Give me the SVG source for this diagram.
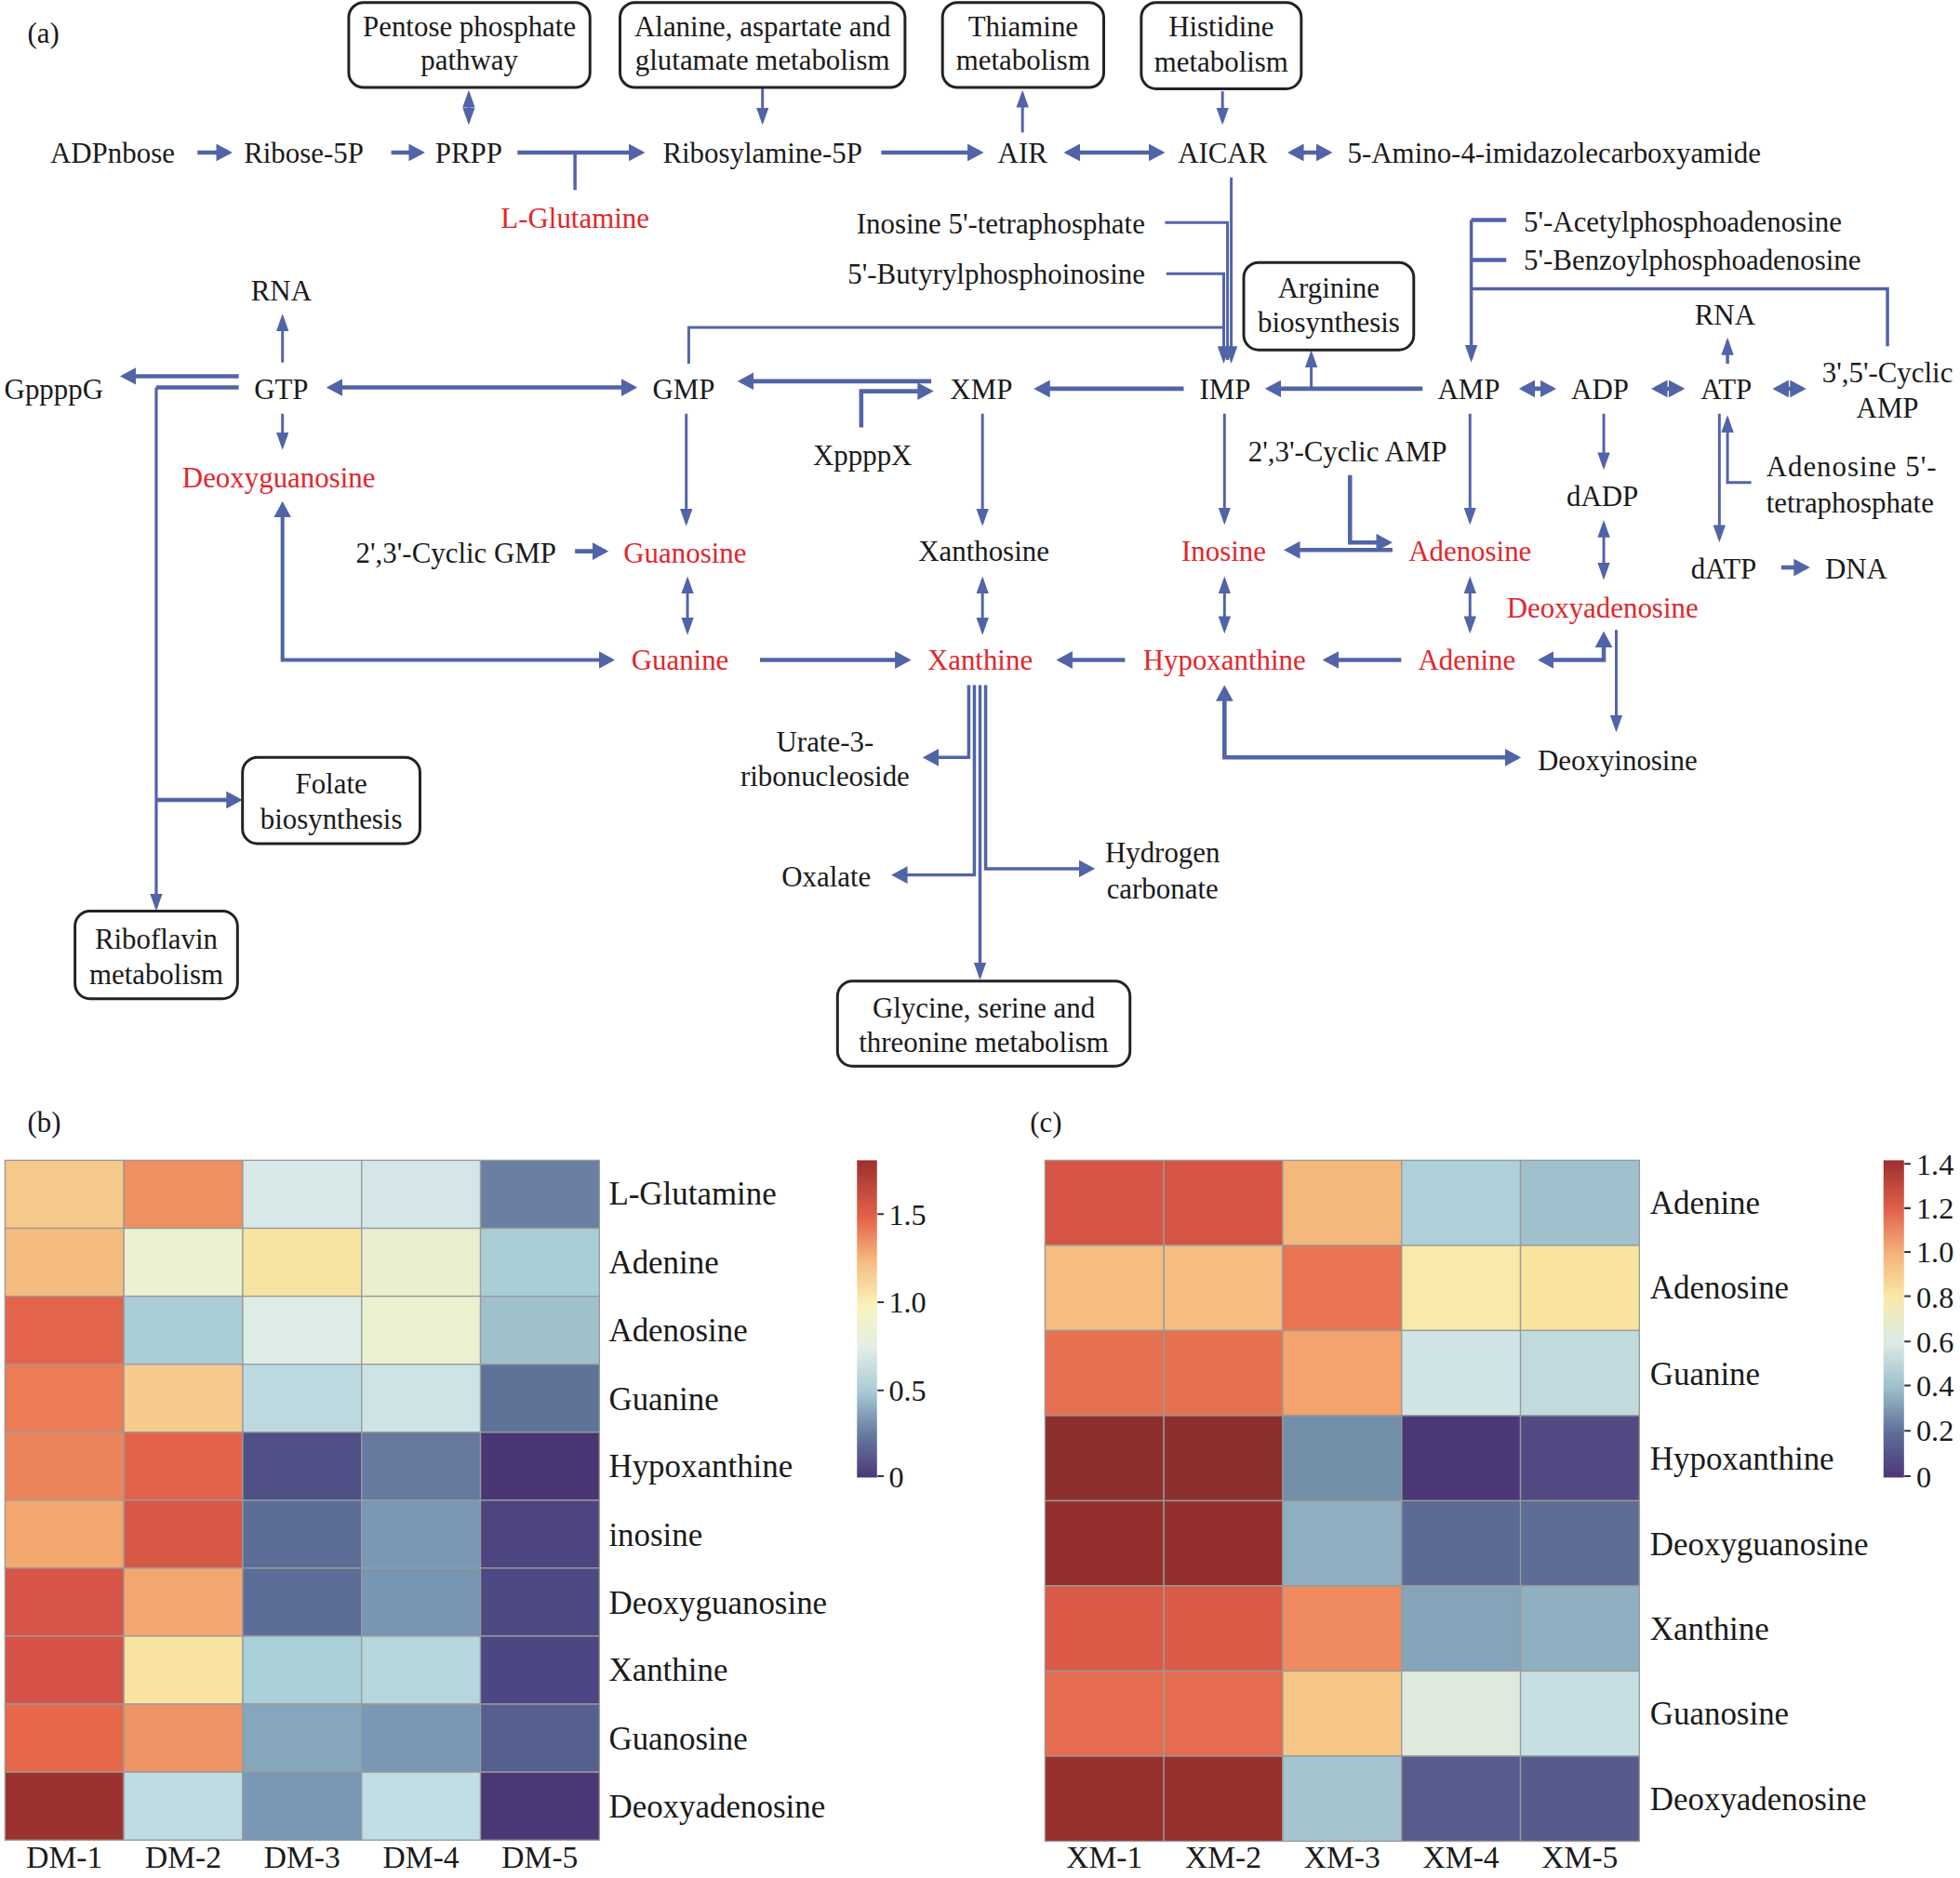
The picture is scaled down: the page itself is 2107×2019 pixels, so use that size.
<svg xmlns="http://www.w3.org/2000/svg" width="2107" height="2019" viewBox="0 0 2107 2019">
<style>
.t{font-family:"Liberation Serif","Times New Roman",serif;font-size:23px;fill:#1a1a1a;text-anchor:middle}
.r{fill:#e3262b}
.s{text-anchor:start}
.e{text-anchor:end}
.box{fill:#fff;stroke:#222;stroke-width:2.2}
.c{fill:none;stroke:#5264a8;stroke-width:2.2}
.k{stroke-width:3.4}
.hl{font-size:26px;text-anchor:start}
.hc{font-size:25px}
.tk{font-size:24px;text-anchor:start}
.cell{stroke:#9a9a9a;stroke-width:1}
.tick{stroke:#333;stroke-width:1.5}
</style>
<defs>
<marker id="a" markerUnits="userSpaceOnUse" viewBox="0 0 14 10" refX="11" refY="5" markerWidth="14" markerHeight="10" orient="auto-start-reverse"><path d="M0,0L14,5L0,10z" fill="#5264a8"/></marker>
<marker id="A" markerUnits="userSpaceOnUse" viewBox="0 0 13 14" refX="10" refY="7" markerWidth="13" markerHeight="14" orient="auto-start-reverse"><path d="M0,0L13,7L0,14z" fill="#5264a8"/></marker>
<linearGradient id="gb" x1="0" y1="1" x2="0" y2="0">
<stop offset="0" stop-color="#4b3877"/>
<stop offset="0.136" stop-color="#667aa0"/>
<stop offset="0.27" stop-color="#a8cad5"/>
<stop offset="0.41" stop-color="#e3eee6"/>
<stop offset="0.54" stop-color="#f9f3bd"/>
<stop offset="0.68" stop-color="#f5bc7f"/>
<stop offset="0.815" stop-color="#e5644a"/>
<stop offset="1" stop-color="#9c2f2f"/>
</linearGradient>
<linearGradient id="gc" x1="0" y1="1" x2="0" y2="0">
<stop offset="0" stop-color="#4b3877"/>
<stop offset="0.141" stop-color="#5f6d98"/>
<stop offset="0.283" stop-color="#9cbfcc"/>
<stop offset="0.424" stop-color="#dbeae6"/>
<stop offset="0.565" stop-color="#f8eaa8"/>
<stop offset="0.707" stop-color="#f5b27a"/>
<stop offset="0.848" stop-color="#e0604a"/>
<stop offset="1" stop-color="#9c2f2f"/>
</linearGradient>
</defs>
<rect width="2107" height="2019" fill="#fff"/>
<g transform="scale(1.34375)">
<text class="t s" x="22" y="34">(a)</text>

<g id="connectors">
<path class="c k" d="M158,122H183" marker-end="url(#A)"/>
<path class="c k" d="M313,122H337" marker-end="url(#A)"/>
<path class="c k" d="M414,122H513" marker-end="url(#A)"/>
<path class="c" d="M460,122V152" style="stroke-width:2.6"/>
<path class="c k" d="M705,122H784" marker-end="url(#A)"/>
<path class="c k" d="M854,122H929" marker-start="url(#A)" marker-end="url(#A)"/>
<path class="c k" d="M1033,122H1063" marker-start="url(#A)" marker-end="url(#A)"/>
<path class="c" d="M375,75V97" marker-start="url(#a)" marker-end="url(#a)"/>
<path class="c" d="M610,70V97" marker-end="url(#a)"/>
<path class="c" d="M818,106V75" marker-end="url(#a)"/>
<path class="c" d="M978,73V97" marker-end="url(#a)"/>
<path class="c" d="M985,142V288" marker-end="url(#a)"/>
<path class="c" d="M932,178H982V288"/>
<path class="c" d="M933,219H979V288" marker-end="url(#a)"/>
<path class="c" d="M551,291V262H979"/>
<path class="c k" d="M1138,311H1015" marker-end="url(#A)"/>
<path class="c" d="M1049,311V283" marker-end="url(#a)"/>
<path class="c k" d="M947,311H830" marker-end="url(#A)"/>
<path class="c k" d="M745,305H593" marker-end="url(#A)"/>
<path class="c k" d="M689,342V313H744" marker-end="url(#A)"/>
<path class="c k" d="M264,310H507" marker-start="url(#A)" marker-end="url(#A)"/>
<path class="c k" d="M191,301H99" marker-end="url(#A)"/>
<path class="c k" d="M191,310H125"/>
<path class="c" d="M125,310V726" style="stroke-width:2.4" marker-end="url(#a)"/>
<path class="c k" d="M125,640H191" marker-end="url(#A)"/>
<path class="c" d="M226,290V254" marker-end="url(#a)"/>
<path class="c" d="M226,331V357" marker-end="url(#a)"/>
<path class="c" d="M226,404V528H489" style="stroke-width:3" marker-start="url(#A)" marker-end="url(#A)"/>
<path class="c" d="M549,331V418" marker-end="url(#a)"/>
<path class="c k" d="M460,441H484" marker-end="url(#A)"/>
<path class="c" d="M550,464V505" marker-start="url(#a)" marker-end="url(#a)"/>
<path class="c k" d="M608,528H726" marker-end="url(#A)"/>
<path class="c" d="M786,331V418" marker-end="url(#a)"/>
<path class="c" d="M786,464V505" marker-start="url(#a)" marker-end="url(#a)"/>
<path class="c k" d="M900,528H848" marker-end="url(#A)"/>
<path class="c k" d="M1121,528H1061" marker-end="url(#A)"/>
<path class="c k" d="M1233,528H1283V508" marker-start="url(#A)" marker-end="url(#A)"/>
<path class="c" d="M1293,504V583" marker-end="url(#a)"/>
<path class="c k" d="M979.6,551V606H1214" marker-start="url(#A)" marker-end="url(#A)"/>
<path class="c" d="M979.6,331V417" marker-end="url(#a)"/>
<path class="c" d="M1176,331V417" marker-end="url(#a)"/>
<path class="c k" d="M1080,380V434H1111" marker-end="url(#A)"/>
<path class="c k" d="M1114,440H1030" marker-end="url(#A)"/>
<path class="c" d="M979.6,464V504" marker-start="url(#a)" marker-end="url(#a)"/>
<path class="c" d="M1176,464V504" marker-start="url(#a)" marker-end="url(#a)"/>
<path class="c k" d="M1218,311H1242" marker-start="url(#A)" marker-end="url(#A)"/>
<path class="c k" d="M1324,311H1345" marker-start="url(#A)" marker-end="url(#A)"/>
<path class="c k" d="M1421,311H1442" marker-start="url(#A)" marker-end="url(#A)"/>
<path class="c" d="M1382,291V273" style="stroke-width:2.6" marker-end="url(#a)"/>
<path class="c" d="M1283,331V373" marker-end="url(#a)"/>
<path class="c" d="M1283,419V461" marker-start="url(#a)" marker-end="url(#a)"/>
<path class="c" d="M1375.5,331V431" marker-end="url(#a)"/>
<path class="c" d="M1401,386H1382V335" marker-end="url(#a)"/>
<path class="c k" d="M1425,454H1445" marker-end="url(#A)"/>
<path class="c k" d="M1205,176H1177"/>
<path class="c k" d="M1205,208H1177"/>
<path class="c" d="M1177,176V287" style="stroke-width:2.6" marker-end="url(#a)"/>
<path class="c" d="M1510,277V231H1177" style="stroke-width:2.6"/>
<path class="c" d="M775,548V606H741" style="stroke-width:2.6" marker-end="url(#A)"/>
<path class="c" d="M779.5,548V700H716" style="stroke-width:2.6" marker-end="url(#A)"/>
<path class="c" d="M784,548V781" style="stroke-width:2.6" marker-end="url(#a)"/>
<path class="c" d="M788.5,548V695H873" style="stroke-width:2.6" marker-end="url(#A)"/>
</g>

<g id="n-pentose"><rect class="box" x="279" y="2" width="193" height="68" rx="12"/><text class="t" x="375.5" y="29">Pentose phosphate</text><text class="t" x="375.5" y="56">pathway</text></g>
<g id="n-alanine"><rect class="box" x="496" y="2" width="228" height="68" rx="12"/><text class="t" x="610" y="29">Alanine, aspartate and</text><text class="t" x="610" y="56">glutamate metabolism</text></g>
<g id="n-thiamine"><rect class="box" x="754" y="2" width="129" height="68" rx="12"/><text class="t" x="818.5" y="29">Thiamine</text><text class="t" x="818.5" y="56">metabolism</text></g>
<g id="n-histidine"><rect class="box" x="913" y="2" width="128" height="69" rx="12"/><text class="t" x="977" y="29">Histidine</text><text class="t" x="977" y="57">metabolism</text></g>
<g id="n-arginine"><rect class="box" x="995" y="210" width="136" height="70" rx="12"/><text class="t" x="1063" y="238">Arginine</text><text class="t" x="1063" y="266">biosynthesis</text></g>
<g id="n-folate"><rect class="box" x="194" y="606" width="142" height="69" rx="12"/><text class="t" x="265" y="635">Folate</text><text class="t" x="265" y="663">biosynthesis</text></g>
<g id="n-riboflavin"><rect class="box" x="60" y="729" width="130" height="70" rx="12"/><text class="t" x="125" y="759">Riboflavin</text><text class="t" x="125" y="787">metabolism</text></g>
<g id="n-glycine"><rect class="box" x="670" y="785" width="234" height="68" rx="12"/><text class="t" x="787" y="814">Glycine, serine and</text><text class="t" x="787" y="842">threonine metabolism</text></g>

<g id="n-adpribose"><text class="t" x="90" y="130">ADPnbose</text></g>
<g id="n-ribose5p"><text class="t" x="243" y="130">Ribose-5P</text></g>
<g id="n-prpp"><text class="t" x="375" y="130">PRPP</text></g>
<g id="n-ribosylamine"><text class="t" x="610" y="130">Ribosylamine-5P</text></g>
<g id="n-air"><text class="t" x="818" y="130">AIR</text></g>
<g id="n-aicar"><text class="t" x="978" y="130">AICAR</text></g>
<g id="n-amino"><text class="t s" x="1078" y="130">5-Amino-4-imidazolecarboxyamide</text></g>
<g id="n-lglutamine"><text class="t r" x="460" y="182">L-Glutamine</text></g>
<g id="n-itp"><text class="t e" x="916" y="187">Inosine 5'-tetraphosphate</text></g>
<g id="n-butyryl"><text class="t e" x="916" y="227">5'-Butyrylphosphoinosine</text></g>
<g id="n-acetyl"><text class="t s" x="1219" y="185">5'-Acetylphosphoadenosine</text></g>
<g id="n-benzoyl"><text class="t s" x="1219" y="216">5'-Benzoylphosphoadenosine</text></g>
<g id="n-rna1"><text class="t" x="225" y="240">RNA</text></g>
<g id="n-rna2"><text class="t" x="1380" y="260">RNA</text></g>
<g id="n-gppppg"><text class="t" x="43" y="319">GppppG</text></g>
<g id="n-gtp"><text class="t" x="225" y="319">GTP</text></g>
<g id="n-gmp"><text class="t" x="547" y="319">GMP</text></g>
<g id="n-xmp"><text class="t" x="785" y="319">XMP</text></g>
<g id="n-imp"><text class="t" x="980" y="319">IMP</text></g>
<g id="n-amp"><text class="t" x="1175" y="319">AMP</text></g>
<g id="n-adp"><text class="t" x="1280" y="319">ADP</text></g>
<g id="n-atp"><text class="t" x="1381" y="319">ATP</text></g>
<g id="n-camp"><text class="t" x="1510" y="306">3',5'-Cyclic</text><text class="t" x="1510" y="334">AMP</text></g>
<g id="n-xppppx"><text class="t" x="690" y="372">XppppX</text></g>
<g id="n-deoxyguanosine"><text class="t r" x="223" y="390">Deoxyguanosine</text></g>
<g id="n-cyclicamp23"><text class="t" x="1078" y="369">2',3'-Cyclic AMP</text></g>
<g id="n-dadp"><text class="t" x="1282" y="405">dADP</text></g>
<g id="n-adotp"><text class="t s" x="1413" y="381" textLength="136" lengthAdjust="spacing">Adenosine 5'-</text><text class="t s" x="1413" y="410">tetraphosphate</text></g>
<g id="n-cyclicgmp"><text class="t e" x="445" y="450">2',3'-Cyclic GMP</text></g>
<g id="n-guanosine"><text class="t r" x="548" y="450">Guanosine</text></g>
<g id="n-xanthosine"><text class="t" x="787" y="449">Xanthosine</text></g>
<g id="n-inosine"><text class="t r" x="979" y="449">Inosine</text></g>
<g id="n-adenosine"><text class="t r" x="1176" y="449">Adenosine</text></g>
<g id="n-datp"><text class="t" x="1379" y="463">dATP</text></g>
<g id="n-dna"><text class="t" x="1485" y="463">DNA</text></g>
<g id="n-deoxyadenosine"><text class="t r" x="1282" y="494">Deoxyadenosine</text></g>
<g id="n-guanine"><text class="t r" x="544" y="536">Guanine</text></g>
<g id="n-xanthine"><text class="t r" x="784" y="536">Xanthine</text></g>
<g id="n-hypoxanthine"><text class="t r" x="979.5" y="536">Hypoxanthine</text></g>
<g id="n-adenine"><text class="t r" x="1173.5" y="536">Adenine</text></g>
<g id="n-urate"><text class="t" x="660" y="601">Urate-3-</text><text class="t" x="660" y="629">ribonucleoside</text></g>
<g id="n-deoxyinosine"><text class="t" x="1294" y="616">Deoxyinosine</text></g>
<g id="n-oxalate"><text class="t" x="661" y="709">Oxalate</text></g>
<g id="n-hco3"><text class="t" x="930" y="690">Hydrogen</text><text class="t" x="930" y="719">carbonate</text></g>

<g id="heatmap-b">
<text class="t s" x="22" y="906">(b)</text>
<g class="cell">
<rect x="4" y="928.3" width="95.1" height="54.39" fill="#f5c98a"/><rect x="99.1" y="928.3" width="95.1" height="54.39" fill="#ef9060"/><rect x="194.2" y="928.3" width="95.1" height="54.39" fill="#d9e9e9"/><rect x="289.3" y="928.3" width="95.1" height="54.39" fill="#d4e6e8"/><rect x="384.4" y="928.3" width="95.1" height="54.39" fill="#6a7fa2"/>
<rect x="4" y="982.7" width="95.1" height="54.39" fill="#f4bd7f"/><rect x="99.1" y="982.7" width="95.1" height="54.39" fill="#eaf0d0"/><rect x="194.2" y="982.7" width="95.1" height="54.39" fill="#f7e4a0"/><rect x="289.3" y="982.7" width="95.1" height="54.39" fill="#e8efcf"/><rect x="384.4" y="982.7" width="95.1" height="54.39" fill="#a9cdd4"/>
<rect x="4" y="1037.1" width="95.1" height="54.39" fill="#e2644a"/><rect x="99.1" y="1037.1" width="95.1" height="54.39" fill="#a9cdd6"/><rect x="194.2" y="1037.1" width="95.1" height="54.39" fill="#deece6"/><rect x="289.3" y="1037.1" width="95.1" height="54.39" fill="#ebf1d0"/><rect x="384.4" y="1037.1" width="95.1" height="54.39" fill="#9fc1cc"/>
<rect x="4" y="1091.5" width="95.1" height="54.39" fill="#ec7c55"/><rect x="99.1" y="1091.5" width="95.1" height="54.39" fill="#f6ca8c"/><rect x="194.2" y="1091.5" width="95.1" height="54.39" fill="#bcd9e0"/><rect x="289.3" y="1091.5" width="95.1" height="54.39" fill="#cde3e6"/><rect x="384.4" y="1091.5" width="95.1" height="54.39" fill="#5f7399"/>
<rect x="4" y="1145.9" width="95.1" height="54.39" fill="#ec845b"/><rect x="99.1" y="1145.9" width="95.1" height="54.39" fill="#e2634a"/><rect x="194.2" y="1145.9" width="95.1" height="54.39" fill="#4e5086"/><rect x="289.3" y="1145.9" width="95.1" height="54.39" fill="#667a9f"/><rect x="384.4" y="1145.9" width="95.1" height="54.39" fill="#4a3675"/>
<rect x="4" y="1200.3" width="95.1" height="54.39" fill="#f3a86f"/><rect x="99.1" y="1200.3" width="95.1" height="54.39" fill="#d85848"/><rect x="194.2" y="1200.3" width="95.1" height="54.39" fill="#5c6d97"/><rect x="289.3" y="1200.3" width="95.1" height="54.39" fill="#7a98b4"/><rect x="384.4" y="1200.3" width="95.1" height="54.39" fill="#4c4580"/>
<rect x="4" y="1254.6" width="95.1" height="54.39" fill="#d8554a"/><rect x="99.1" y="1254.6" width="95.1" height="54.39" fill="#f3a76e"/><rect x="194.2" y="1254.6" width="95.1" height="54.39" fill="#5c6d97"/><rect x="289.3" y="1254.6" width="95.1" height="54.39" fill="#7895b2"/><rect x="384.4" y="1254.6" width="95.1" height="54.39" fill="#4d4982"/>
<rect x="4" y="1309" width="95.1" height="54.39" fill="#d75249"/><rect x="99.1" y="1309" width="95.1" height="54.39" fill="#f8e3a0"/><rect x="194.2" y="1309" width="95.1" height="54.39" fill="#a9cfd8"/><rect x="289.3" y="1309" width="95.1" height="54.39" fill="#b6d6de"/><rect x="384.4" y="1309" width="95.1" height="54.39" fill="#4c4782"/>
<rect x="4" y="1363.4" width="95.1" height="54.39" fill="#e5684b"/><rect x="99.1" y="1363.4" width="95.1" height="54.39" fill="#ef9464"/><rect x="194.2" y="1363.4" width="95.1" height="54.39" fill="#86a6bc"/><rect x="289.3" y="1363.4" width="95.1" height="54.39" fill="#7898b5"/><rect x="384.4" y="1363.4" width="95.1" height="54.39" fill="#56608f"/>
<rect x="4" y="1417.8" width="95.1" height="54.39" fill="#9c322f"/><rect x="99.1" y="1417.8" width="95.1" height="54.39" fill="#bedce2"/><rect x="194.2" y="1417.8" width="95.1" height="54.39" fill="#7898b5"/><rect x="289.3" y="1417.8" width="95.1" height="54.39" fill="#bfdde3"/><rect x="384.4" y="1417.8" width="95.1" height="54.39" fill="#4a3776"/>
</g>
<text class="t hl" x="487" y="964">L-Glutamine</text>
<text class="t hl" x="487" y="1019">Adenine</text>
<text class="t hl" x="487" y="1073">Adenosine</text>
<text class="t hl" x="487" y="1128">Guanine</text>
<text class="t hl" x="487" y="1182">Hypoxanthine</text>
<text class="t hl" x="487" y="1237">inosine</text>
<text class="t hl" x="487" y="1291">Deoxyguanosine</text>
<text class="t hl" x="487" y="1345">Xanthine</text>
<text class="t hl" x="487" y="1400">Guanosine</text>
<text class="t hl" x="487" y="1454">Deoxyadenosine</text>
<text class="t hc" x="51.5" y="1494">DM-1</text>
<text class="t hc" x="146.6" y="1494">DM-2</text>
<text class="t hc" x="241.7" y="1494">DM-3</text>
<text class="t hc" x="336.8" y="1494">DM-4</text>
<text class="t hc" x="431.9" y="1494">DM-5</text>
<rect x="685.6" y="928.3" width="16" height="253.8" fill="url(#gb)"/>
<path class="tick" d="M702,971.4h5M702,1041.9h5M702,1112.4h5M702,1181h5"/>
<text class="t tk" x="711" y="980">1.5</text>
<text class="t tk" x="711" y="1050">1.0</text>
<text class="t tk" x="711" y="1121">0.5</text>
<text class="t tk" x="711" y="1190">0</text>
</g>

<g id="heatmap-c">
<text class="t s" x="824" y="906">(c)</text>
<g class="cell">
<rect x="836" y="928.3" width="95.1" height="68.1" fill="#d75546"/><rect x="931.1" y="928.3" width="95.1" height="68.1" fill="#d75546"/><rect x="1026.2" y="928.3" width="95.1" height="68.1" fill="#f5b87b"/><rect x="1121.3" y="928.3" width="95.1" height="68.1" fill="#aed0d8"/><rect x="1216.4" y="928.3" width="95.1" height="68.1" fill="#9fc1cd"/>
<rect x="836" y="996.4" width="95.1" height="68.1" fill="#f5bd80"/><rect x="931.1" y="996.4" width="95.1" height="68.1" fill="#f5bd80"/><rect x="1026.2" y="996.4" width="95.1" height="68.1" fill="#e97452"/><rect x="1121.3" y="996.4" width="95.1" height="68.1" fill="#f8eaa8"/><rect x="1216.4" y="996.4" width="95.1" height="68.1" fill="#f9e49f"/>
<rect x="836" y="1064.5" width="95.1" height="68.1" fill="#e67151"/><rect x="931.1" y="1064.5" width="95.1" height="68.1" fill="#e67151"/><rect x="1026.2" y="1064.5" width="95.1" height="68.1" fill="#f3a36b"/><rect x="1121.3" y="1064.5" width="95.1" height="68.1" fill="#d0e4e8"/><rect x="1216.4" y="1064.5" width="95.1" height="68.1" fill="#c0dade"/>
<rect x="836" y="1132.6" width="95.1" height="68.1" fill="#8c2f2e"/><rect x="931.1" y="1132.6" width="95.1" height="68.1" fill="#8c2f2e"/><rect x="1026.2" y="1132.6" width="95.1" height="68.1" fill="#728ea9"/><rect x="1121.3" y="1132.6" width="95.1" height="68.1" fill="#4b3877"/><rect x="1216.4" y="1132.6" width="95.1" height="68.1" fill="#524a83"/>
<rect x="836" y="1200.7" width="95.1" height="68.1" fill="#93302d"/><rect x="931.1" y="1200.7" width="95.1" height="68.1" fill="#93302d"/><rect x="1026.2" y="1200.7" width="95.1" height="68.1" fill="#8faebf"/><rect x="1121.3" y="1200.7" width="95.1" height="68.1" fill="#5c6a95"/><rect x="1216.4" y="1200.7" width="95.1" height="68.1" fill="#5e6d96"/>
<rect x="836" y="1268.8" width="95.1" height="68.1" fill="#da5b48"/><rect x="931.1" y="1268.8" width="95.1" height="68.1" fill="#da5b48"/><rect x="1026.2" y="1268.8" width="95.1" height="68.1" fill="#ef8b5e"/><rect x="1121.3" y="1268.8" width="95.1" height="68.1" fill="#84a4ba"/><rect x="1216.4" y="1268.8" width="95.1" height="68.1" fill="#8fb0c0"/>
<rect x="836" y="1336.9" width="95.1" height="68.1" fill="#e56c4f"/><rect x="931.1" y="1336.9" width="95.1" height="68.1" fill="#e56c4f"/><rect x="1026.2" y="1336.9" width="95.1" height="68.1" fill="#f6c687"/><rect x="1121.3" y="1336.9" width="95.1" height="68.1" fill="#dfeadf"/><rect x="1216.4" y="1336.9" width="95.1" height="68.1" fill="#c6dfe5"/>
<rect x="836" y="1405" width="95.1" height="68.1" fill="#98302d"/><rect x="931.1" y="1405" width="95.1" height="68.1" fill="#98302d"/><rect x="1026.2" y="1405" width="95.1" height="68.1" fill="#a4c5cf"/><rect x="1121.3" y="1405" width="95.1" height="68.1" fill="#585d8e"/><rect x="1216.4" y="1405" width="95.1" height="68.1" fill="#575a8c"/>
</g>
<text class="t hl" x="1320" y="971">Adenine</text>
<text class="t hl" x="1320" y="1039">Adenosine</text>
<text class="t hl" x="1320" y="1108">Guanine</text>
<text class="t hl" x="1320" y="1176">Hypoxanthine</text>
<text class="t hl" x="1320" y="1244">Deoxyguanosine</text>
<text class="t hl" x="1320" y="1312">Xanthine</text>
<text class="t hl" x="1320" y="1380">Guanosine</text>
<text class="t hl" x="1320" y="1448">Deoxyadenosine</text>
<text class="t hc" x="883.5" y="1494">XM-1</text>
<text class="t hc" x="978.6" y="1494">XM-2</text>
<text class="t hc" x="1073.7" y="1494">XM-3</text>
<text class="t hc" x="1168.8" y="1494">XM-4</text>
<text class="t hc" x="1263.9" y="1494">XM-5</text>
<rect x="1506.8" y="928.3" width="16.4" height="253.8" fill="url(#gc)"/>
<path class="tick" d="M1523.5,931.1h5M1523.5,966.6h5M1523.5,1001.6h5M1523.5,1037.1h5M1523.5,1073.3h5M1523.5,1108.4h5M1523.5,1144.7h5M1523.5,1181h5"/>
<text class="t tk" x="1533" y="940">1.4</text>
<text class="t tk" x="1533" y="975">1.2</text>
<text class="t tk" x="1533" y="1010">1.0</text>
<text class="t tk" x="1533" y="1046">0.8</text>
<text class="t tk" x="1533" y="1082">0.6</text>
<text class="t tk" x="1533" y="1117">0.4</text>
<text class="t tk" x="1533" y="1153">0.2</text>
<text class="t tk" x="1533" y="1190">0</text>
</g>
</g>
</svg>
